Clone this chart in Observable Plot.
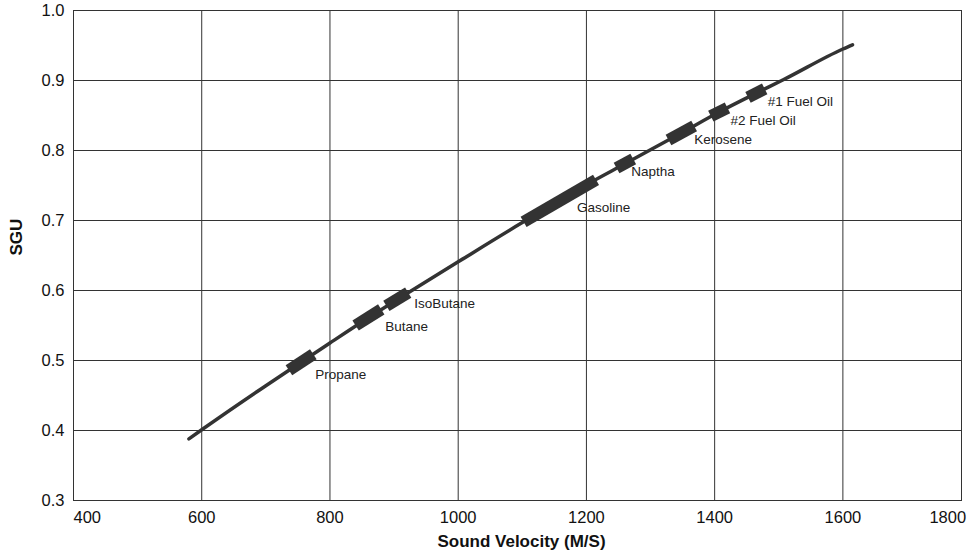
<!DOCTYPE html>
<html><head><meta charset="utf-8">
<script src="https://cdn.jsdelivr.net/npm/d3@7"></script>
<script src="https://cdn.jsdelivr.net/npm/@observablehq/plot@0.6"></script>
<style>
body{margin:0;background:#fff}
#chart svg{display:block}
</style>
</head><body><div id="chart"></div>
<script>
// Axis ticks
const xTicks = [400, 600, 800, 1000, 1200, 1400, 1600, 1800];
const yTicks = [0.3, 0.4, 0.5, 0.6, 0.7, 0.8, 0.9, 1.0];

// SGU vs sound velocity curve
const curveX = [580, 600, 700, 754, 800, 860, 905, 1000, 1100, 1158, 1200, 1260, 1300, 1348, 1407, 1465, 1507, 1600, 1615];
const curveY = [0.388, 0.401, 0.464, 0.497, 0.525, 0.561, 0.587, 0.641, 0.697, 0.728, 0.751, 0.781, 0.801, 0.825, 0.855, 0.882, 0.901, 0.945, 0.951];

// Fuel ranges along the curve
const fuelNames = ["Propane", "Butane", "IsoButane", "Gasoline", "Naptha", "Kerosene", "#2 Fuel Oil", "#1 Fuel Oil"];
const fuelX1 = [736, 840, 888, 1102, 1247, 1328, 1394, 1452];
const fuelX2 = [774, 880, 922, 1215, 1273, 1368, 1420, 1478];
const fuelY1 = [0.486, 0.550, 0.578, 0.698, 0.775, 0.815, 0.849, 0.876];
const fuelY2 = [0.509, 0.573, 0.597, 0.758, 0.788, 0.835, 0.861, 0.888];

const xTitle = "Sound Velocity (M/S)";
const yTitle = "SGU";

const curve = curveX.map((x, i) => ({x, y: curveY[i]}));
const fuels = fuelNames.map((name, i) => ({name, x1: fuelX1[i], x2: fuelX2[i], y1: fuelY1[i], y2: fuelY2[i]}));

// label nudges (style only)
const nudge = {
  "Propane": [2, 20], "Butane": [4, 17], "IsoButane": [6, 11], "Gasoline": [-19, 28],
  "Naptha": [-2, 13], "Kerosene": [0, 14], "#2 Fuel Oil": [3, 13], "#1 Fuel Oil": [3, 13]
};

const ink = "#333";
const font = "'Liberation Sans', Arial, Helvetica, sans-serif";
const tickFont = 16.5;

const labelMarks = fuels.map(f => Plot.text([f], {
  x: "x2", y: "y2", text: "name", textAnchor: "start",
  dx: nudge[f.name][0], dy: nudge[f.name][1], fontSize: 13.5, fill: "#222"
}));

const fmtX = d3.format("d");
const chart = Plot.plot({
  width: 968, height: 552,
  marginLeft: 73, marginRight: 7, marginTop: 10, marginBottom: 52,
  style: {fontFamily: font, fontSize: "16px", color: "#111", background: "#fff"},
  x: {domain: [400, 1785]},
  y: {domain: [0.3, 1.0]},
  marks: [
    Plot.gridX(xTicks.filter(d => d > 400 && d < 1800), {stroke: ink, strokeOpacity: 1, strokeWidth: 1}),
    Plot.gridY(yTicks.filter(d => d > 0.3 && d < 1.0), {stroke: ink, strokeOpacity: 1, strokeWidth: 1}),
    Plot.frame({stroke: ink, strokeWidth: 1}),
    Plot.axisY(yTicks, {tickSize: 0, tickPadding: 9, tickFormat: d3.format(".1f"), fontSize: tickFont, fill: "#111", label: null}),
    Plot.axisX(xTicks.filter(d => d > 400 && d < 1800), {tickSize: 0, tickPadding: 11, tickFormat: fmtX, fontSize: tickFont, fill: "#111", label: null}),
    Plot.axisX(xTicks.filter(d => d === 400), {tickSize: 0, tickPadding: 11, tickFormat: fmtX, fontSize: tickFont, fill: "#111", label: null, textAnchor: "start"}),
    Plot.axisX(xTicks.filter(d => d === 1800), {tickSize: 0, tickPadding: 11, tickFormat: fmtX, fontSize: tickFont, fill: "#111", label: null, textAnchor: "end", dx: -5}),
    Plot.text([xTitle], {frameAnchor: "bottom", dy: 41, dx: 4, text: d => d, fontSize: 17, fontWeight: "bold", fill: "#111", lineAnchor: "middle"}),
    Plot.text([yTitle], {frameAnchor: "left", dx: -57, rotate: -90, text: d => d, fontSize: 17, fontWeight: "bold", fill: "#111", lineAnchor: "middle"}),
    Plot.line(curve, {x: "x", y: "y", stroke: ink, strokeWidth: 3.5, curve: "monotone-x"}),
    Plot.link(fuels, {x1: "x1", y1: "y1", x2: "x2", y2: "y2", stroke: ink, strokeWidth: 12, strokeLinecap: "butt"}),
    ...labelMarks
  ]
});
document.getElementById("chart").append(chart);
</script>
</body></html>
